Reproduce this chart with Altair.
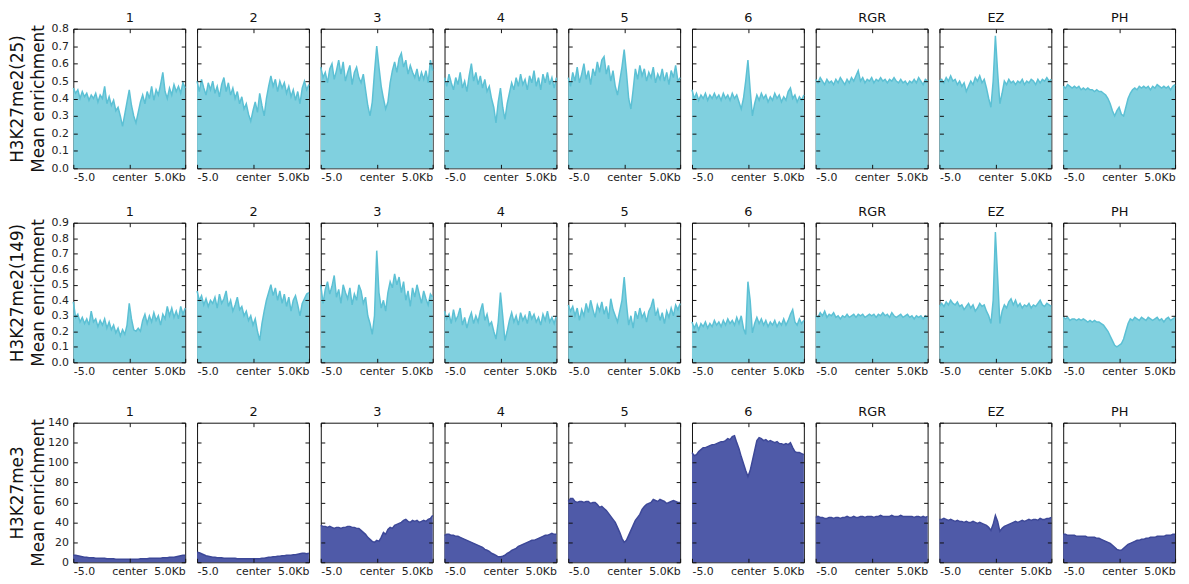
import altair as alt
import numpy as np
import pandas as pd

PANELS = ["1", "2", "3", "4", "5", "6", "RGR", "EZ", "PH"]
ROW_TITLES = [["H3K27me2(25)", "Mean enrichment"],
              ["H3K27me2(149)", "Mean enrichment"],
              ["H3K27me3", "Mean enrichment"]]
Y_DOMAINS = [[0, 0.8], [0, 0.9], [0, 140]]
Y_TICKS = [[0.0, 0.1, 0.2, 0.3, 0.4, 0.5, 0.6, 0.7, 0.8],
           [0.0, 0.1, 0.2, 0.3, 0.4, 0.5, 0.6, 0.7, 0.8, 0.9],
           [0, 20, 40, 60, 80, 100, 120, 140]]
Y_FORMATS = [".1f", ".1f", "d"]
X_TICKS = [-5, 0, 5]
X_TICK_LABELS = ["-5.0", "center", "5.0Kb"]
FILL = ["#80d0df", "#80d0df", "#4f5aa8"]
LINE = ["#5cc0d4", "#5cc0d4", "#3d4898"]

# ---- H3K27me2(25) ----
r1_1 = [0.46, 0.43, 0.45, 0.40, 0.44, 0.41, 0.43, 0.39, 0.42, 0.40, 0.43, 0.38, 0.42, 0.40, 0.47, 0.37, 0.41,
        0.36, 0.39, 0.33, 0.35, 0.30, 0.24, 0.31, 0.38, 0.45, 0.36, 0.30, 0.26, 0.32, 0.38, 0.42, 0.37, 0.44,
        0.40, 0.47, 0.39, 0.45, 0.42, 0.48, 0.55, 0.44, 0.40, 0.46, 0.42, 0.48, 0.44, 0.47, 0.43, 0.49, 0.46]
r1_2 = [0.50, 0.44, 0.51, 0.46, 0.42, 0.49, 0.45, 0.50, 0.43, 0.47, 0.41, 0.48, 0.52, 0.44, 0.49, 0.42, 0.46,
        0.40, 0.44, 0.37, 0.41, 0.34, 0.37, 0.31, 0.27, 0.33, 0.38, 0.32, 0.43, 0.36, 0.30, 0.40, 0.47, 0.53,
        0.47, 0.51, 0.44, 0.50, 0.46, 0.49, 0.43, 0.47, 0.41, 0.45, 0.39, 0.44, 0.37, 0.46, 0.50, 0.45, 0.48]
r1_3 = [0.58, 0.52, 0.55, 0.49, 0.57, 0.60, 0.51, 0.56, 0.62, 0.54, 0.61, 0.50, 0.55, 0.59, 0.48, 0.55, 0.58,
        0.52, 0.49, 0.54, 0.45, 0.36, 0.30, 0.38, 0.55, 0.70, 0.58, 0.47, 0.40, 0.34, 0.38, 0.49, 0.56, 0.61,
        0.55, 0.63, 0.66, 0.58, 0.62, 0.54, 0.59, 0.55, 0.52, 0.57, 0.50, 0.55, 0.51, 0.56, 0.49, 0.62, 0.56]
r1_4 = [0.52, 0.47, 0.54, 0.49, 0.45, 0.52, 0.48, 0.55, 0.46, 0.50, 0.44, 0.53, 0.60, 0.50, 0.55, 0.48, 0.53,
        0.46, 0.51, 0.44, 0.47, 0.40, 0.35, 0.26, 0.38, 0.46, 0.35, 0.28, 0.37, 0.43, 0.49, 0.45, 0.52, 0.47,
        0.54, 0.48, 0.51, 0.45, 0.53, 0.49, 0.56, 0.47, 0.52, 0.45, 0.54, 0.49, 0.55, 0.48, 0.52, 0.46, 0.52]
r1_5 = [0.52, 0.47, 0.55, 0.50, 0.58, 0.49, 0.54, 0.60, 0.51, 0.56, 0.48, 0.57, 0.53, 0.61, 0.55, 0.62, 0.64,
        0.54, 0.59, 0.50, 0.56, 0.47, 0.42, 0.50, 0.58, 0.68, 0.55, 0.40, 0.34, 0.45, 0.57, 0.51, 0.59, 0.53,
        0.57, 0.50, 0.55, 0.52, 0.58, 0.49, 0.54, 0.51, 0.57, 0.50, 0.55, 0.48, 0.56, 0.52, 0.59, 0.50, 0.52]
r1_6 = [0.45, 0.40, 0.43, 0.39, 0.42, 0.40, 0.43, 0.39, 0.42, 0.40, 0.43, 0.40, 0.42, 0.39, 0.43, 0.40, 0.42,
        0.39, 0.43, 0.40, 0.42, 0.38, 0.34, 0.40, 0.50, 0.62, 0.45, 0.30, 0.37, 0.42, 0.39, 0.43, 0.40, 0.42,
        0.38, 0.41, 0.39, 0.43, 0.40, 0.42, 0.38, 0.41, 0.39, 0.44, 0.46, 0.40, 0.42, 0.38, 0.41, 0.39, 0.42]
r1_7 = [0.51, 0.49, 0.52, 0.50, 0.48, 0.51, 0.49, 0.50, 0.48, 0.51, 0.49, 0.52, 0.50, 0.48, 0.51, 0.49, 0.52,
        0.50, 0.53, 0.56, 0.50, 0.52, 0.49, 0.51, 0.50, 0.52, 0.49, 0.51, 0.50, 0.52, 0.50, 0.51, 0.49, 0.51,
        0.50, 0.52, 0.50, 0.49, 0.51, 0.49, 0.50, 0.48, 0.50, 0.49, 0.51, 0.49, 0.52, 0.50, 0.48, 0.51, 0.50]
r1_8 = [0.50, 0.51, 0.49, 0.52, 0.50, 0.53, 0.50, 0.51, 0.48, 0.50, 0.47, 0.49, 0.44, 0.47, 0.50, 0.48, 0.52,
        0.50, 0.53, 0.49, 0.51, 0.46, 0.40, 0.35, 0.50, 0.76, 0.55, 0.37, 0.43, 0.50, 0.48, 0.51, 0.49, 0.50,
        0.48, 0.50, 0.49, 0.51, 0.48, 0.50, 0.49, 0.51, 0.50, 0.48, 0.51, 0.49, 0.51, 0.50, 0.52, 0.50, 0.51]
r1_9 = [0.47, 0.46, 0.48, 0.47, 0.46, 0.47, 0.46, 0.47, 0.45, 0.46, 0.45, 0.46, 0.45, 0.45, 0.44, 0.45, 0.44,
        0.44, 0.43, 0.42, 0.40, 0.37, 0.33, 0.30, 0.33, 0.35, 0.31, 0.30, 0.35, 0.40, 0.43, 0.45, 0.46, 0.45,
        0.47, 0.46, 0.47, 0.46, 0.47, 0.45, 0.47, 0.46, 0.48, 0.47, 0.46, 0.47, 0.46, 0.47, 0.45, 0.47, 0.48]

# ---- H3K27me2(149) ----
r2_1 = [0.39, 0.29, 0.31, 0.26, 0.29, 0.25, 0.28, 0.24, 0.33, 0.26, 0.28, 0.23, 0.27, 0.24, 0.28, 0.22, 0.26,
        0.21, 0.24, 0.19, 0.22, 0.17, 0.21, 0.18, 0.24, 0.38, 0.28, 0.21, 0.20, 0.22, 0.20, 0.27, 0.31, 0.25,
        0.30, 0.26, 0.32, 0.27, 0.30, 0.24, 0.31, 0.28, 0.36, 0.30, 0.35, 0.29, 0.33, 0.28, 0.36, 0.31, 0.35]
r2_2 = [0.46, 0.40, 0.43, 0.37, 0.41, 0.36, 0.40, 0.38, 0.42, 0.35, 0.44, 0.38, 0.41, 0.46, 0.36, 0.40, 0.33,
        0.37, 0.42, 0.34, 0.36, 0.30, 0.33, 0.27, 0.30, 0.24, 0.28, 0.20, 0.14, 0.25, 0.33, 0.40, 0.45, 0.50,
        0.43, 0.48, 0.40, 0.46, 0.38, 0.44, 0.36, 0.42, 0.33, 0.40, 0.43, 0.37, 0.30, 0.38, 0.41, 0.44, 0.45]
r2_3 = [0.50, 0.38, 0.47, 0.52, 0.44, 0.49, 0.56, 0.42, 0.47, 0.38, 0.50, 0.45, 0.41, 0.48, 0.37, 0.44, 0.40,
        0.50, 0.46, 0.38, 0.42, 0.30, 0.25, 0.18, 0.30, 0.72, 0.45, 0.35, 0.40, 0.33, 0.45, 0.52, 0.48, 0.57,
        0.50, 0.55, 0.45, 0.52, 0.40, 0.46, 0.36, 0.48, 0.42, 0.50, 0.44, 0.38, 0.46, 0.41, 0.37, 0.44, 0.42]
r2_4 = [0.33, 0.28, 0.31, 0.25, 0.34, 0.27, 0.30, 0.35, 0.24, 0.29, 0.22, 0.28, 0.32, 0.25, 0.30, 0.26, 0.33,
        0.38, 0.27, 0.31, 0.24, 0.26, 0.20, 0.15, 0.26, 0.45, 0.30, 0.14, 0.20, 0.27, 0.32, 0.26, 0.30, 0.24,
        0.32, 0.27, 0.30, 0.25, 0.33, 0.28, 0.31, 0.26, 0.29, 0.24, 0.31, 0.27, 0.33, 0.26, 0.29, 0.25, 0.30]
r2_5 = [0.37, 0.33, 0.36, 0.30, 0.35, 0.27, 0.34, 0.30, 0.38, 0.32, 0.40, 0.34, 0.29, 0.37, 0.33, 0.39, 0.31,
        0.36, 0.28, 0.41, 0.34, 0.30, 0.26, 0.33, 0.40, 0.55, 0.38, 0.24, 0.30, 0.22, 0.33, 0.28, 0.35, 0.29,
        0.32, 0.26, 0.33, 0.36, 0.41, 0.30, 0.34, 0.27, 0.32, 0.25, 0.33, 0.29, 0.35, 0.30, 0.37, 0.34, 0.38]
r2_6 = [0.26, 0.22, 0.25, 0.21, 0.25, 0.23, 0.26, 0.22, 0.25, 0.23, 0.27, 0.24, 0.26, 0.23, 0.27, 0.24, 0.28,
        0.25, 0.27, 0.24, 0.29, 0.25, 0.30, 0.22, 0.18, 0.52, 0.40, 0.19, 0.25, 0.29, 0.25, 0.28, 0.24, 0.27,
        0.23, 0.26, 0.24, 0.27, 0.23, 0.26, 0.24, 0.28, 0.24, 0.27, 0.31, 0.34, 0.26, 0.24, 0.28, 0.25, 0.27]
r2_7 = [0.30, 0.29, 0.32, 0.30, 0.33, 0.29, 0.31, 0.30, 0.32, 0.29, 0.30, 0.28, 0.30, 0.29, 0.31, 0.29, 0.30,
        0.31, 0.29, 0.31, 0.30, 0.31, 0.29, 0.30, 0.31, 0.30, 0.31, 0.29, 0.31, 0.30, 0.32, 0.30, 0.31, 0.29,
        0.32, 0.30, 0.29, 0.30, 0.31, 0.29, 0.30, 0.31, 0.29, 0.30, 0.28, 0.30, 0.29, 0.30, 0.28, 0.30, 0.29]
r2_8 = [0.36, 0.38, 0.36, 0.39, 0.37, 0.40, 0.38, 0.37, 0.39, 0.36, 0.37, 0.34, 0.36, 0.38, 0.35, 0.37, 0.33,
        0.35, 0.38, 0.36, 0.37, 0.33, 0.30, 0.25, 0.40, 0.84, 0.55, 0.25, 0.33, 0.37, 0.35, 0.39, 0.41, 0.37,
        0.40, 0.36, 0.38, 0.35, 0.37, 0.36, 0.38, 0.35, 0.37, 0.36, 0.38, 0.40, 0.37, 0.36, 0.38, 0.37, 0.36]
r2_9 = [0.29, 0.28, 0.29, 0.27, 0.28, 0.28, 0.27, 0.28, 0.27, 0.28, 0.27, 0.26, 0.27, 0.26, 0.27, 0.26, 0.26,
        0.25, 0.24, 0.22, 0.20, 0.17, 0.14, 0.11, 0.10, 0.11, 0.12, 0.15, 0.20, 0.25, 0.28, 0.27, 0.29, 0.28,
        0.27, 0.29, 0.28, 0.27, 0.29, 0.28, 0.27, 0.28, 0.29, 0.27, 0.28, 0.26, 0.28, 0.29, 0.27, 0.28, 0.29]

# ---- H3K27me3 ----
r3_1 = [7, 7, 6.5, 6, 5.5, 5, 5, 4.5, 4.5, 4.5, 4, 4, 4, 4, 4, 3.5, 3.5, 3.5, 3.5, 3, 3, 3, 3, 3, 3, 3,
        3, 3, 3, 3, 3.5, 3.5, 3.5, 3.5, 4, 4, 4, 4, 4, 4, 4.5, 4.5, 4.5, 5, 5, 5, 5.5, 6, 6.5, 7, 7]
r3_2 = [10, 9.5, 8.5, 7.5, 6.5, 6, 5.5, 5, 5, 4.5, 4.5, 4.5, 4, 4, 4, 4, 4, 4, 3.5, 3.5, 3.5, 3.5, 3.5,
        3.5, 3.5, 3.5, 3.5, 3.5, 3.5, 4, 4, 4.5, 5, 5, 5.5, 5.5, 6, 6, 6.5, 6.5, 7, 7, 7, 7.5, 7.5, 8, 8.5,
        9, 9, 8.5, 9]
r3_3 = [37, 36, 36, 35, 36, 35, 34, 35, 35, 34, 35, 35, 36, 36, 35, 35, 34, 34, 32, 30, 28, 25, 23, 21,
        20, 22, 21, 25, 30, 28, 33, 35, 34, 37, 38, 39, 40, 42, 43, 41, 40, 42, 41, 42, 40, 41, 42, 41, 43,
        44, 47]
r3_4 = [27, 28, 28, 27, 27, 26, 26, 25, 24, 23, 22, 21, 20, 19, 18, 17, 16, 15, 13, 12, 11, 9, 8, 7,
        5.5, 5.5, 6, 7, 9, 10, 12, 13, 14, 16, 17, 18, 19, 20, 21, 22, 22, 23, 24, 25, 26, 27, 27, 28, 29,
        28, 28]
r3_5 = [61, 64, 64, 61, 60, 61, 61, 60, 61, 61, 59, 60, 60, 58, 55, 56, 54, 52, 49, 46, 43, 40, 35, 30,
        24, 20, 22, 27, 32, 37, 42, 45, 48, 53, 56, 58, 59, 60, 63, 62, 61, 63, 62, 61, 59, 60, 61, 62, 61,
        60, 60]
r3_6 = [110, 107, 108, 111, 113, 115, 115, 116, 117, 118, 118, 119, 120, 121, 121, 122, 124, 123, 126,
        127, 120, 114, 106, 99, 92, 86, 92, 102, 112, 122, 125, 124, 122, 123, 121, 122, 121, 120, 121, 119,
        119, 118, 119, 118, 120, 115, 111, 110, 110, 109, 108]
r3_7 = [45, 46, 45, 45, 44, 44, 45, 45, 44, 45, 45, 44, 45, 45, 46, 45, 45, 46, 45, 45, 46, 46, 45, 46,
        46, 46, 45, 46, 46, 47, 46, 46, 46, 46, 47, 46, 46, 46, 47, 46, 46, 46, 46, 46, 45, 46, 46, 45, 46,
        45, 46]
r3_8 = [43, 43, 44, 43, 42, 43, 42, 41, 42, 41, 41, 40, 41, 40, 40, 41, 40, 39, 40, 39, 38, 37, 35, 32,
        38, 47, 41, 31, 34, 36, 37, 38, 39, 40, 41, 40, 41, 42, 41, 42, 43, 42, 43, 43, 42, 44, 43, 43, 44,
        44, 45]
r3_9 = [28, 28, 27, 27, 27, 27, 26, 26, 26, 26, 26, 25, 25, 25, 25, 24, 24, 23, 22, 21, 20, 19, 17, 15,
        13, 12, 12, 14, 16, 18, 19, 20, 21, 22, 22, 23, 23, 24, 24, 25, 25, 25, 26, 26, 26, 26, 27, 27, 27,
        28, 28]

DATA = [[r1_1, r1_2, r1_3, r1_4, r1_5, r1_6, r1_7, r1_8, r1_9],
        [r2_1, r2_2, r2_3, r2_4, r2_5, r2_6, r2_7, r2_8, r2_9],
        [r3_1, r3_2, r3_3, r3_4, r3_5, r3_6, r3_7, r3_8, r3_9]]

LABEL_EXPR = " : ".join(
    f"datum.value == {v} ? '{t}'" for v, t in zip(X_TICKS[:-1], X_TICK_LABELS[:-1])
) + f" : '{X_TICK_LABELS[-1]}'"

FONT = "DejaVu Sans"
PW, PH_ = 113, 141


def panel(vals, r, c):
    df = pd.DataFrame({"pos": np.linspace(-5, 5, len(vals)), "val": vals})
    xs = alt.Scale(domain=[-5, 5], nice=False, zero=False)
    ys = alt.Scale(domain=Y_DOMAINS[r], nice=False, zero=True)
    x_bottom = alt.Axis(values=X_TICKS, labelExpr=LABEL_EXPR, labelFlush=True, offset=-4,
                        tickSize=4, domain=False, grid=False, title=None, labelPadding=3, zindex=1)
    x_top = alt.Axis(orient="top", values=X_TICKS, labels=False, offset=-4, tickSize=4,
                     domain=False, grid=False, zindex=1, title=PANELS[c], titleFontSize=13,
                     titlePadding=4, titleFontWeight="normal", titleLineHeight=13)
    common = dict(values=Y_TICKS[r], format=Y_FORMATS[r], offset=-4, tickSize=4, domain=False,
                  grid=False, zindex=1)
    if c == 0:
        y_left = alt.Axis(title=ROW_TITLES[r], titlePadding=2, labelPadding=5,
                          minExtent=28, maxExtent=28, **common)
    else:
        y_left = alt.Axis(title=None, labels=False, **common)
    y_right = alt.Axis(orient="right", values=Y_TICKS[r], labels=False, offset=-4, tickSize=4,
                       domain=False, grid=False, title=None, zindex=1)
    area = alt.Chart(df).mark_area(color=FILL[r], opacity=1).encode(
        x=alt.X("pos:Q", scale=xs, axis=x_bottom),
        y=alt.Y("val:Q", scale=ys, axis=y_left),
    )
    line = alt.Chart(df).mark_line(color=LINE[r], strokeWidth=1.5).encode(
        x=alt.X("pos:Q", scale=xs, axis=x_top),
        y=alt.Y("val:Q", scale=ys, axis=y_right),
    )
    return alt.layer(area, line).resolve_axis(x="independent", y="independent").properties(
        width=PW, height=PH_)


rows = [alt.hconcat(*[panel(DATA[r][c], r, c) for c in range(9)], spacing=12, bounds="flush")
        for r in range(3)]

chart = alt.vconcat(
    alt.vconcat(rows[0], rows[1], spacing=22),
    rows[2], spacing=28
).properties(
    padding={"left": 0, "top": 0, "right": 2, "bottom": 2}
).configure_view(
    stroke="#111111", strokeWidth=1
).configure_axis(
    labelFont=FONT, labelFontSize=11, labelColor="#222222", tickColor="#111111",
    titleFont=FONT, titleFontSize=17, titleFontWeight="normal", titleColor="#111111",
    titleLineHeight=21
)

chart.save("out.html", embed_options={"renderer": "svg", "actions": False})
